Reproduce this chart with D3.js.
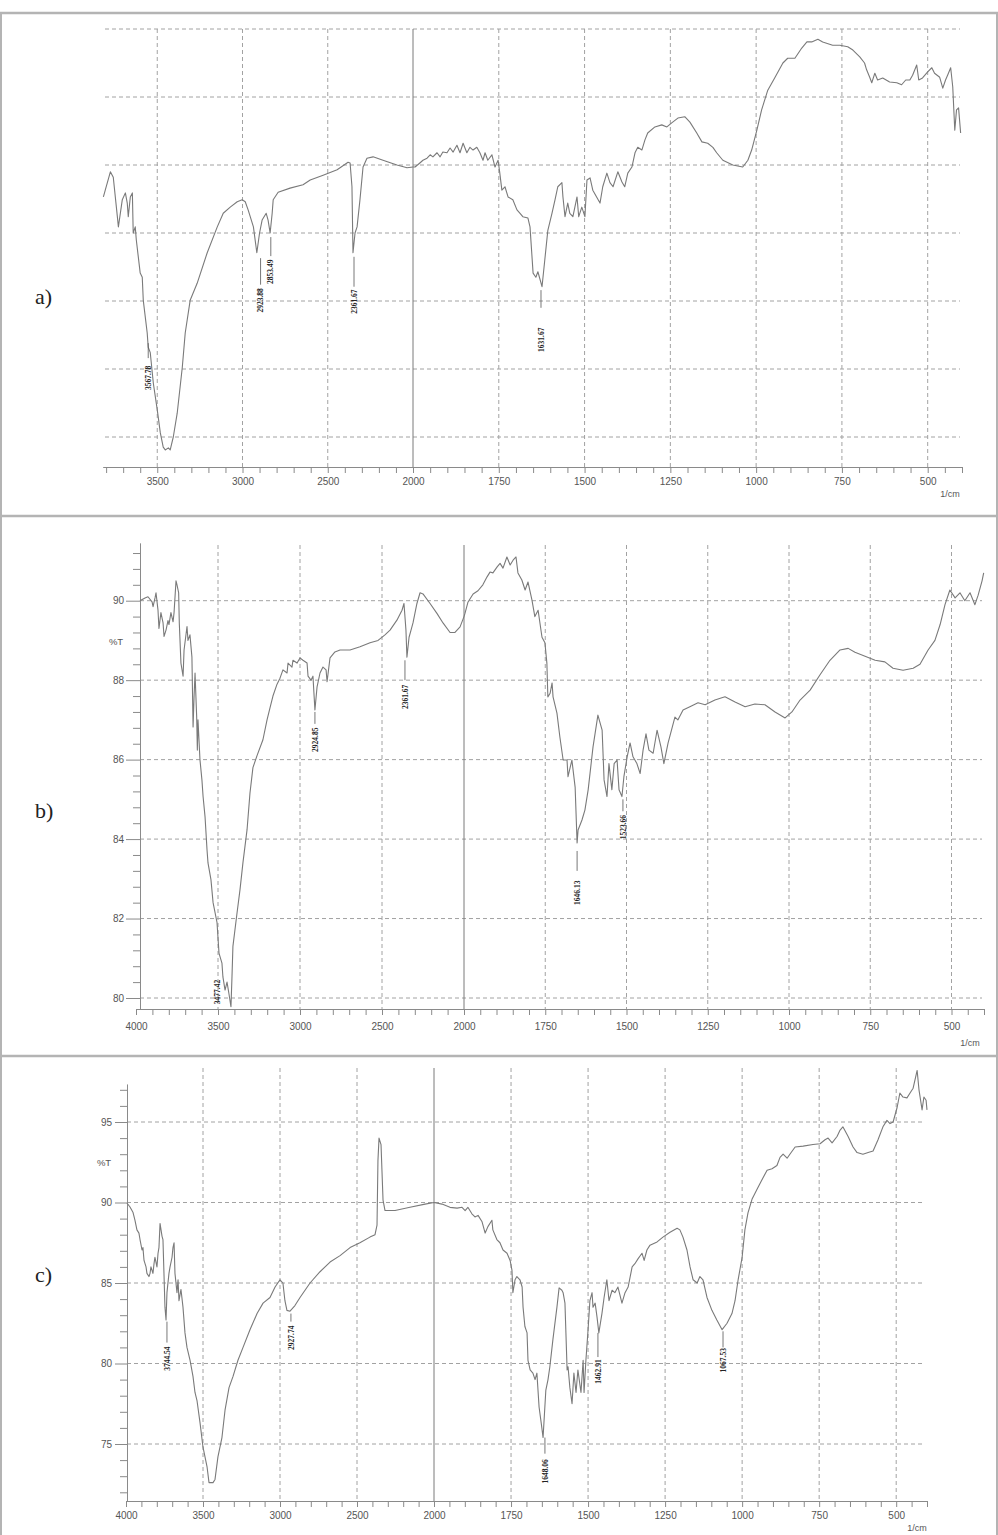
<!DOCTYPE html>
<html><head><meta charset="utf-8">
<script src="https://cdn.jsdelivr.net/npm/d3@7"></script>
<style>body{margin:0;background:#fff} svg{display:block}</style>
</head><body><svg id="c" width="998" height="1535"></svg>
<script>
// ---------------- DATA (wavenumber 1/cm, transmittance) ----------------
const specA = [[3816,45.3],[3805,46.3],[3775,49.0],[3758,48.2],[3734,42.4],[3728,40.9],[3705,44.9],[3687,45.9],[3676,44.4],[3670,42.4],[3658,45.3],[3646,45.9],[3641,40.0],[3629,40.9],[3623,39.0],[3600,34.1],[3588,33.5],[3582,30.1],[3559,25.3],[3553,23.2],[3541,22.4],[3523,17.9],[3500,14.0],[3482,10.6],[3465,8.5],[3453,8.1],[3435,8.4],[3424,8.1],[3406,10.0],[3383,13.5],[3353,20.3],[3336,25.3],[3307,30.1],[3266,32.6],[3207,37.1],[3148,40.9],[3113,42.9],[3072,43.8],[3031,44.6],[3002,44.9],[2984,44.6],[2967,43.4],[2936,40.9],[2916,37.1],[2900,40.0],[2885,41.9],[2861,42.9],[2850,41.9],[2838,40.0],[2826,42.9],[2820,44.9],[2791,46.0],[2721,46.6],[2645,47.1],[2603,47.8],[2527,48.5],[2445,49.3],[2381,50.4],[2369,50.3],[2358,46.8],[2352,37.1],[2340,40.0],[2328,40.9],[2311,44.9],[2293,49.7],[2270,51.0],[2234,51.2],[2176,50.7],[2094,50.0],[2035,49.6],[2000,49.7],
[1994,49.7],[1980,50.3],[1971,50.7],[1959,51.0],[1950,51.5],[1942,51.2],[1930,51.8],[1921,51.2],[1913,51.9],[1901,51.8],[1892,52.5],[1883,51.9],[1872,52.9],[1863,51.8],[1854,53.2],[1843,51.8],[1834,52.6],[1825,52.2],[1814,52.6],[1805,51.8],[1796,50.7],[1790,51.8],[1782,50.7],[1770,51.5],[1761,49.7],[1752,50.7],[1747,48.8],[1741,46.3],[1732,46.8],[1723,45.3],[1709,44.9],[1697,43.4],[1688,42.9],[1680,42.4],[1665,42.2],[1659,40.9],[1650,34.1],[1642,33.5],[1636,34.3],[1624,32.1],[1616,36.0],[1607,40.4],[1595,42.9],[1586,44.9],[1578,46.8],[1566,47.4],[1563,45.3],[1557,42.4],[1549,44.4],[1543,42.9],[1534,42.4],[1522,45.3],[1517,42.4],[1508,43.8],[1499,42.4],[1493,47.8],[1484,48.1],[1476,46.3],[1455,44.4],[1447,46.8],[1435,48.8],[1426,47.4],[1417,46.8],[1403,49.0],[1391,47.5],[1383,46.8],[1374,48.8],[1362,49.7],[1353,51.8],[1345,52.6],[1333,52.2],[1324,53.7],[1316,54.7],[1295,55.6],[1275,55.9],[1260,55.6],[1246,56.2],[1228,56.9],[1208,57.1],[1193,56.3],[1173,54.7],[1158,53.4],[1141,53.2],[1126,52.6],[1115,51.8],[1097,50.7],[1068,50.0],[1039,49.7],[1024,50.7],[1013,52.2],[998,55.1],[984,58.1],[966,61.0],[946,62.8],[922,65.0],[908,65.7],[887,65.7],[867,67.2],[852,68.1],[838,68.1],[820,68.5],[806,68.1],[777,67.6],[756,67.6],[733,67.4],[718,66.9],[698,65.9],[684,65.0],[678,64.0],[669,62.9],[663,62.1],[654,63.5],[646,62.5],[631,62.8],[611,62.2],[590,62.1],[576,61.8],[564,62.5],[552,62.5],[544,63.2],[532,64.7],[526,62.5],[515,62.8],[500,63.7],[488,64.3],[480,63.5],[465,62.9],[456,61.3],[448,62.5],[442,63.2],[433,64.3],[427,61.5],[421,55.1],[416,58.1],[410,58.4],[404,54.7]];

const specB = [[3976,90.0],[3945,90.07],[3927,90.1],[3902,89.97],[3896,89.85],[3884,90.07],[3878,90.2],[3866,89.77],[3860,89.3],[3848,89.7],[3835,89.44],[3829,89.1],[3817,89.26],[3805,89.5],[3799,89.4],[3787,89.7],[3774,89.47],[3768,89.7],[3756,90.5],[3750,90.4],[3740,90.2],[3736,89.44],[3726,88.43],[3713,88.1],[3707,88.76],[3689,89.35],[3683,89.0],[3671,89.14],[3659,88.58],[3652,86.82],[3646,87.58],[3640,88.18],[3630,87.07],[3626,86.24],[3622,87.0],[3610,86.0],[3598,85.49],[3591,85.07],[3579,84.56],[3567,83.73],[3561,83.4],[3543,82.98],[3530,82.4],[3506,81.9],[3494,81.13],[3476,80.88],[3470,80.53],[3457,80.2],[3445,80.4],[3433,80.1],[3421,79.78],[3415,80.5],[3409,81.3],[3384,82.14],[3366,82.72],[3348,83.4],[3323,84.23],[3305,85.16],[3287,85.8],[3262,86.1],[3226,86.5],[3201,87.0],[3183,87.3],[3165,87.6],[3140,87.9],[3122,88.05],[3104,88.26],[3079,88.18],[3073,88.43],[3049,88.33],[3043,88.5],[3018,88.43],[3000,88.56],[2982,88.5],[2957,88.43],[2951,88.1],[2933,88.0],[2921,88.1],[2909,87.25],[2896,87.83],[2878,88.18],[2860,88.33],[2841,88.26],[2835,87.96],[2817,88.56],[2787,88.71],[2756,88.76],[2695,88.76],[2634,88.84],[2573,88.94],[2524,89.0],[2482,89.14],[2451,89.26],[2409,89.51],[2378,89.76],[2366,89.93],[2354,89.26],[2348,88.58],[2335,89.08],[2323,89.26],[2311,89.44],[2287,89.93],[2268,90.2],[2250,90.17],[2207,89.93],[2165,89.68],[2128,89.44],[2085,89.2],[2055,89.2],[2024,89.34],[2000,89.6],
[1997,89.68],[1988,89.96],[1972,90.17],[1957,90.25],[1942,90.4],[1929,90.6],[1920,90.72],[1911,90.7],[1898,90.85],[1889,90.94],[1880,90.82],[1868,91.1],[1858,90.9],[1849,91.02],[1840,91.1],[1834,90.7],[1822,90.52],[1812,90.27],[1803,90.47],[1791,90.02],[1782,89.6],[1772,89.76],[1760,89.08],[1751,88.94],[1745,88.43],[1742,87.58],[1735,87.67],[1729,87.93],[1726,87.58],[1714,87.17],[1705,86.57],[1695,85.99],[1683,85.99],[1680,85.57],[1668,85.99],[1658,85.3],[1652,83.9],[1649,84.23],[1637,84.48],[1628,84.73],[1618,85.24],[1603,86.32],[1588,87.12],[1575,86.74],[1569,85.49],[1560,85.07],[1554,85.9],[1545,85.24],[1538,85.9],[1529,85.99],[1523,85.24],[1514,85.07],[1508,85.57],[1498,86.07],[1489,86.42],[1480,86.07],[1468,85.9],[1458,85.65],[1449,86.24],[1440,86.65],[1431,86.24],[1418,86.16],[1406,86.74],[1394,86.32],[1385,85.9],[1372,86.42],[1351,87.07],[1342,87.0],[1326,87.25],[1305,87.33],[1280,87.43],[1258,87.38],[1228,87.5],[1197,87.58],[1166,87.45],[1135,87.33],[1105,87.4],[1074,87.38],[1043,87.2],[1012,87.05],[991,87.2],[966,87.5],[935,87.75],[905,88.13],[874,88.5],[843,88.76],[818,88.8],[797,88.7],[766,88.6],[735,88.5],[705,88.46],[680,88.3],[649,88.25],[618,88.3],[597,88.4],[572,88.76],[551,89.0],[535,89.4],[520,89.9],[505,90.27],[489,90.07],[474,90.2],[459,90.0],[443,90.2],[428,89.9],[418,90.14],[406,90.5],[401,90.7]];

const specC = [[3994,89.97],[3974,89.72],[3955,89.4],[3942,88.9],[3929,88.3],[3916,88.1],[3909,87.7],[3896,87.05],[3890,87.2],[3883,86.4],[3870,86.0],[3864,85.6],[3851,85.4],[3844,85.6],[3838,86.0],[3825,85.6],[3818,86.2],[3812,86.6],[3799,86.0],[3792,86.85],[3786,87.2],[3779,88.7],[3766,87.9],[3760,87.7],[3747,83.5],[3740,82.7],[3734,84.4],[3721,85.6],[3714,86.0],[3701,86.6],[3695,87.2],[3688,87.5],[3682,85.6],[3669,84.4],[3662,85.2],[3656,83.9],[3643,84.6],[3630,83.5],[3617,81.9],[3604,81.0],[3584,80.2],[3565,79.2],[3552,78.2],[3539,77.7],[3519,76.3],[3500,74.8],[3474,73.6],[3461,72.6],[3435,72.6],[3422,72.8],[3403,74.2],[3377,75.4],[3357,77.1],[3331,78.5],[3305,79.2],[3273,80.2],[3240,81.0],[3195,82.1],[3149,83.1],[3110,83.75],[3065,84.1],[3032,84.75],[3000,85.2],[2981,85.0],[2968,83.9],[2955,83.3],[2935,83.25],[2903,83.6],[2870,84.1],[2805,85.0],[2740,85.7],[2675,86.3],[2610,86.7],[2545,87.2],[2481,87.5],[2416,87.85],[2383,88.0],[2370,88.6],[2364,92.6],[2357,94.0],[2344,93.6],[2338,92.0],[2331,90.15],[2318,89.5],[2253,89.5],[2156,89.7],[2058,89.9],[2000,90.0],
[1974,89.9],[1948,89.7],[1925,89.65],[1909,89.7],[1899,89.5],[1890,89.7],[1877,89.3],[1867,89.1],[1857,89.2],[1844,88.8],[1834,88.1],[1825,88.5],[1812,88.9],[1809,88.3],[1796,87.7],[1786,87.5],[1776,87.05],[1763,86.85],[1753,86.4],[1747,85.8],[1744,84.4],[1737,85.2],[1731,85.4],[1721,85.2],[1714,84.75],[1711,83.5],[1705,82.3],[1698,81.9],[1695,80.2],[1688,79.6],[1679,79.4],[1672,79.0],[1666,79.4],[1659,77.3],[1652,76.3],[1646,75.4],[1637,78.35],[1630,79.0],[1624,79.8],[1614,81.5],[1601,83.5],[1594,84.7],[1585,84.55],[1581,84.4],[1575,83.75],[1568,79.6],[1565,79.8],[1559,78.5],[1552,77.5],[1546,79.4],[1539,78.2],[1533,79.6],[1523,78.2],[1516,80.2],[1513,78.2],[1507,80.2],[1500,82.1],[1494,83.9],[1487,84.4],[1484,83.5],[1477,83.75],[1471,82.9],[1465,81.9],[1455,83.1],[1448,84.1],[1439,85.2],[1432,83.9],[1422,84.55],[1413,84.4],[1403,84.75],[1390,83.75],[1380,84.4],[1370,84.75],[1357,86.0],[1348,86.2],[1338,86.5],[1325,86.85],[1318,86.4],[1309,87.05],[1299,87.35],[1276,87.55],[1257,87.85],[1234,88.15],[1211,88.4],[1202,88.3],[1192,87.85],[1179,87.05],[1169,86.0],[1159,85.2],[1146,85.0],[1137,85.4],[1127,85.2],[1114,84.1],[1098,83.3],[1082,82.7],[1065,82.1],[1049,82.5],[1033,83.1],[1023,83.9],[1013,85.2],[1000,86.6],[991,88.3],[981,89.35],[968,90.2],[952,90.8],[936,91.4],[919,92.0],[903,92.1],[887,92.3],[877,92.8],[867,93.0],[854,92.75],[845,93.0],[828,93.45],[802,93.5],[770,93.6],[747,93.65],[731,93.9],[721,94.0],[708,93.7],[692,94.1],[682,94.5],[673,94.7],[656,94.1],[640,93.45],[627,93.1],[608,93.0],[591,93.1],[575,93.2],[559,93.9],[543,94.7],[530,95.1],[520,94.9],[510,95.0],[497,95.9],[488,96.8],[478,96.55],[465,96.5],[455,96.8],[445,97.1],[432,98.2],[426,97.0],[416,95.75],[410,96.55],[403,96.35],[400,95.75]];

// peak annotations: [text, wavenumber of label, label centre %T, leader from %T, leader to %T]
const peaksA = [["3567.78",3553,18.7,23.8,21.6],["2923.88",2894,30.1,36.3,32.4],["2853.49",2834,34.3,39.4,36.6],["2361.67",2346,29.9,36.5,32.1],["1631.67",1627,24.3,31.6,29.0]];
const peaksB = [["3477.42",3506,80.15,null,null],["2924.85",2909,86.5,87.2,86.9],["2361.67",2360,87.58,88.5,88.0],["1646.13",1652,82.65,83.7,83.2],["1523.66",1511,84.3,85.0,84.7]];
const peaksC = [["3744.54",3734,80.3,82.6,81.3],["2927.74",2929,81.6,83.1,82.6],["1648.06",1640,73.3,75.4,74.4],["1462.91",1468,79.5,81.9,80.4],["1067.53",1062,80.2,82.0,81.0]];

// tick labels
const xMajorA = [3500,3000,2500,2000,1750,1500,1250,1000,750,500];
const xMajorBC = [4000,3500,3000,2500,2000,1750,1500,1250,1000,750,500];
const gridYA = [10,20,30,40,50,60,70];
const yTicksB = [80,82,84,86,88,90];
const yTicksC = [75,80,85,90,95];

// ---------------- LAYOUT ----------------
const svg = d3.select('#c');
const SANS = '"Liberation Sans", Arial, sans-serif';
const SERIF = '"Liberation Serif", "Times New Roman", serif';

// frame
[13,516,1056].forEach(yy => svg.append('line').attr('x1',0).attr('x2',998).attr('y1',yy).attr('y2',yy).attr('stroke','#b4b4b4').attr('stroke-width',2.5));
[1,997].forEach(xx => svg.append('line').attr('x1',xx).attr('x2',xx).attr('y1',13).attr('y2',1535).attr('stroke','#b4b4b4').attr('stroke-width',2));

const layouts = [
  {name:'a)', labelY:304, data:specA, peaks:peaksA, majors:xMajorA,
   xd:[3820,2000,400], xr:[102.7,413,962], yd:[10,70], yr:[437,29],
   axisY:467, top:29, hx:[105,960], gridY:gridYA, lblOff:11, unit:[950,497]},
  {name:'b)', labelY:818, data:specB, peaks:peaksB, majors:xMajorBC,
   xd:[4000,2000,400], xr:[136,464,984], yd:[80,90], yr:[998,600.7],
   axisY:1009, top:545, hx:[140,982], gridY:yTicksB, lblOff:14, unit:[970,1046],
   yAxis:{x:140, dom:[79.72,91.45], minorStep:0.4, major:14, minor:7, labelEnd:124, pctT:[116,642]}},
  {name:'c)', labelY:1282, data:specC, peaks:peaksC, majors:xMajorBC,
   xd:[4000,2000,400], xr:[126,434,927], yd:[75,95], yr:[1444,1122],
   axisY:1501, top:1068, hx:[127,925], gridY:yTicksC, lblOff:11, unit:[917,1531],
   yAxis:{x:127, dom:[71.5,97.35], minorStep:1, major:12, minor:7, labelEnd:112, pctT:[104,1163]}}
];

layouts.forEach(L => {
  const g = svg.append('g');
  const x = d3.scaleLinear().domain(L.xd).range(L.xr);
  const y = d3.scaleLinear().domain(L.yd).range(L.yr);

  // horizontal grid
  g.selectAll('line.hg').data(L.gridY).join('line').attr('class','hg')
    .attr('x1',L.hx[0]).attr('x2',L.hx[1]).attr('y1',d=>y(d)).attr('y2',d=>y(d))
    .attr('stroke','#a2a2a2').attr('stroke-width',1).attr('stroke-dasharray','4,3');
  // vertical grid
  const vg = L.majors.filter(d => d < 3990);
  g.selectAll('line.vg').data(vg).join('line').attr('class','vg')
    .attr('x1',d=>x(d)).attr('x2',d=>x(d)).attr('y1',L.top).attr('y2',L.axisY)
    .attr('stroke',d=>d===2000?'#7a7a7a':'#a2a2a2').attr('stroke-width',1)
    .attr('stroke-dasharray',d=>d===2000?null:'4,3');

  // x axis
  const hiStart = Math.floor(L.xd[0]/100)*100;
  const ticks = d3.range(hiStart, 2000, -100).concat(d3.range(2000, 399, -50));
  const xAxis = d3.axisBottom(x).tickValues(ticks).tickSize(6).tickSizeOuter(0)
    .tickFormat(d => L.majors.includes(d) ? d : '');
  const ga = g.append('g').attr('transform',`translate(0,${L.axisY})`).call(xAxis);
  ga.select('.domain').attr('stroke','#8a8a8a');
  ga.selectAll('.tick line').attr('stroke','#8a8a8a');
  ga.selectAll('.tick text').attr('y',L.lblOff).attr('fill','#555')
    .style('font-family',SANS).style('font-size','10px');
  g.append('text').attr('x',L.unit[0]).attr('y',L.unit[1]).attr('text-anchor','middle')
    .attr('fill','#555').style('font-family',SANS).style('font-size','9px').text('1/cm');

  // y axis
  if (L.yAxis) {
    const A = L.yAxis;
    const ys = d3.scaleLinear().domain(A.dom).range([y(A.dom[0]), y(A.dom[1])]);
    const first = Math.ceil(A.dom[0]/A.minorStep - 1e-9)*A.minorStep;
    const minorT = d3.range(first, A.dom[1]+1e-9, A.minorStep).map(v => +v.toFixed(2)).filter(v => !L.gridY.includes(v));
    const gy = g.append('g').attr('transform',`translate(${A.x},0)`);
    gy.call(d3.axisLeft(ys).tickValues(minorT).tickSize(A.minor).tickSizeOuter(0).tickFormat(''));
    gy.call(g2 => g2.append('g').call(d3.axisLeft(ys).tickValues(L.gridY).tickSize(A.major).tickSizeOuter(0).tickFormat(d=>d)));
    gy.selectAll('.domain').attr('stroke','#8a8a8a');
    gy.selectAll('.tick line').attr('stroke','#8a8a8a');
    gy.selectAll('.tick text').attr('x', A.labelEnd - A.x).attr('fill','#555')
      .style('font-family',SANS).style('font-size','10px');
    g.append('text').attr('x',A.pctT[0]).attr('y',A.pctT[1]).attr('dy','0.35em').attr('text-anchor','middle')
      .attr('fill','#555').style('font-family',SANS).style('font-size','9.5px').text('%T');
  }

  // spectrum
  g.append('path').datum(L.data)
    .attr('d', d3.line().x(d=>x(d[0])).y(d=>y(d[1])))
    .attr('fill','none').attr('stroke','#7a7a7a').attr('stroke-width',1.1).attr('stroke-linejoin','round');

  // peak labels
  L.peaks.forEach(p => {
    if (p[3] !== null) {
      g.append('line').attr('x1',x(p[1])).attr('x2',x(p[1])).attr('y1',y(p[3])).attr('y2',y(p[4]))
        .attr('stroke','#555').attr('stroke-width',0.8);
    }
    g.append('text').attr('transform',`translate(${x(p[1])},${y(p[2])}) rotate(-90)`)
      .attr('text-anchor','middle').attr('dy','0.35em').attr('fill','#222')
      .style('font-family',SERIF).style('font-weight','bold').style('font-size','7.5px').text(p[0]);
  });

  // panel label
  svg.append('text').attr('x',35).attr('y',L.labelY).attr('fill','#222')
    .style('font-family',SERIF).style('font-size','22px').text(L.name);
});
</script></body></html>
